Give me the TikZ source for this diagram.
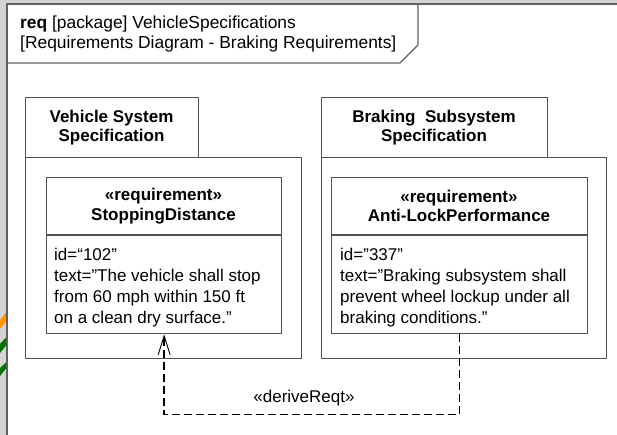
\documentclass[tikz,border=0pt]{standalone}
\usepackage{fontspec}
\setmainfont{Liberation Sans}
\usetikzlibrary{arrows.meta}
\begin{document}
\begin{tikzpicture}[x=1pt,y=-1pt,
  frame/.style={draw=black!62, line width=1.3pt},
  edge/.style={draw=black!68, line width=1.3pt},
  box/.style={edge, rectangle, inner sep=0pt, anchor=north west, fill=white},
  txt/.style={inner sep=0pt, font=\fontsize{17}{21}\selectfont, align=left, anchor=north west},
  ttl/.style={inner sep=0pt, font=\fontsize{17}{19.5}\selectfont\bfseries, align=center},
  derive/.style={draw=black, line width=1.4pt, dash pattern=on 8pt off 4pt,
    -{Straight Barb[length=19pt,width=12pt,line width=0.9pt]}}
]
\useasboundingbox (0,0) rectangle (617,435);
\fill[white] (0,0) rectangle (617,435);

% window edge strips
\fill[black!17] (0,0) rectangle (6.5,435);
\fill[black!17] (0,0) rectangle (617,3.5);
\fill[orange!85!yellow] (0,320) -- (6.5,312) -- (6.5,321) -- (0,329) -- cycle;
\fill[green!45!black] (0,344) -- (6.5,337) -- (6.5,345) -- (0,353) -- cycle;
\fill[green!45!black] (0,368) -- (6.5,362) -- (6.5,368) -- (0,376) -- cycle;

% diagram frame and its heading tab
\draw[frame] (7,435) -- (7,4) -- (617,4);
\draw[frame] (7,63) -- (400,63) -- (418,45) -- (418,4);
\node[txt, font=\fontsize{17.4}{20}\selectfont] (head) at (20,16)
  {\textbf{req} [package] VehicleSpecifications\\{}[Requirements Diagram - Braking Requirements]};

% packages
\node[box, minimum width=276pt, minimum height=201pt] (pkgL) at (25,157) {};
\node[box, minimum width=173pt, minimum height=60pt] (pkgLtab) at (25,97) {};
\node[box, minimum width=285pt, minimum height=201pt] (pkgR) at (321,157) {};
\node[box, minimum width=226pt, minimum height=60pt] (pkgRtab) at (321,97) {};
\node[ttl] (tL) at (111.5,127.5) {Vehicle System\\Specification};
\node[ttl] (tR) at (434,127.5) {Braking\ \ Subsystem\\Specification};

% requirements
\node[box, minimum width=235pt, minimum height=156pt] (reqL) at (46,177) {};
\node[box, minimum width=256pt, minimum height=156pt] (reqR) at (331,177) {};
\draw[edge] (reqL.west |- 0,235) -- (reqL.east |- 0,235);
\draw[edge] (reqR.west |- 0,235) -- (reqR.east |- 0,235);
\node[ttl] (hL) at (163.5,206) {«requirement»\\StoppingDistance};
\node[ttl] (hR) at (459,206) {«requirement»\\Anti-LockPerformance};
\node[txt] (bL) at (54,248) {id=“102”\\text=”The vehicle shall stop\\from 60 mph within 150 ft\\on a clean dry surface.”};
\node[txt] (bR) at (340,248) {id=”337”\\text=”Braking subsystem shall\\prevent wheel lockup under all\\braking conditions.”};

% derivation
\draw[derive] (reqR.south) -- ++(0,80) -| (reqL.south);
\node[inner sep=0pt, font=\fontsize{17}{20}\selectfont, anchor=base] (dr) at (304,402.7) {«deriveReqt»};
\end{tikzpicture}
\end{document}
